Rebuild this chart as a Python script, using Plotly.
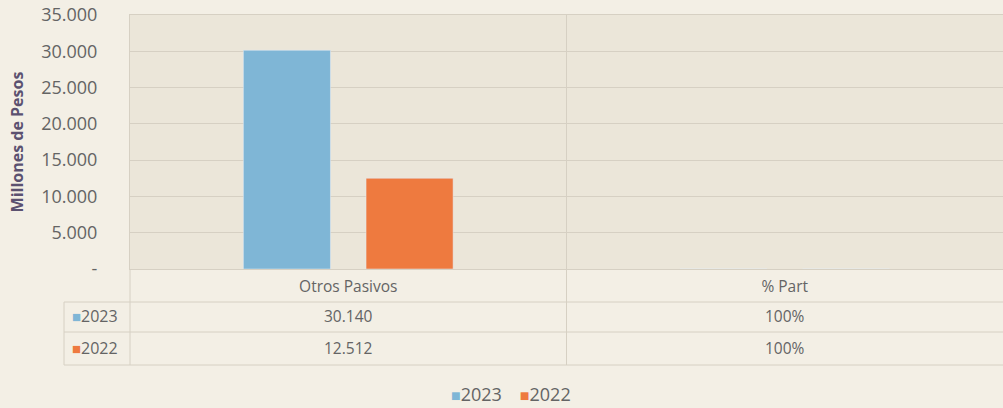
import plotly.graph_objects as go

categories = ["Otros Pasivos", "% Part"]
series_names = ["2023", "2022"]
values_2023 = [30140, 1]
values_2022 = [12512, 1]
table_2023 = ["30.140", "100%"]
table_2022 = ["12.512", "100%"]
tick_vals = [0, 5000, 10000, 15000, 20000, 25000, 30000, 35000]
tick_text = ["-", "5.000", "10.000", "15.000", "20.000", "25.000", "30.000", "35.000"]

c2023 = "#7fb6d6"
c2022 = "#ee7a3f"
txt = "#646464"
grid = "#d6d0c3"
FONT = "Open Sans"
colors = [c2023, c2022]

fig = go.Figure()
fig.add_trace(go.Bar(x=categories, y=values_2023, name=series_names[0], marker_color=c2023, showlegend=False))
fig.add_trace(go.Bar(x=categories, y=values_2022, name=series_names[1], marker_color=c2022, showlegend=False))

W, H = 1003, 408
ml, mr, mt, mb = 130, 0, 15, 139
pw = W - ml - mr
ph = H - mt - mb

def px_x(x):
    return (x - ml) / pw

def px_y(y):
    return (H - mb - y) / ph

shapes = []
line = dict(color=grid, width=1)
for yy in [302, 332, 365]:
    shapes.append(dict(type="line", xref="paper", yref="paper", x0=px_x(64), x1=1, y0=px_y(yy), y1=px_y(yy), line=line))
shapes.append(dict(type="line", xref="paper", yref="paper", x0=px_x(64), x1=px_x(64), y0=px_y(302), y1=px_y(365), line=line))
shapes.append(dict(type="line", xref="paper", yref="paper", x0=0, x1=0, y0=px_y(365), y1=0, line=line))
shapes.append(dict(type="line", xref="x", yref="paper", x0=0.5, x1=0.5, y0=px_y(365), y1=1, line=line))

def swatch(col, size):
    return f"<span style='color:{col};font-size:{size}px'>■</span>"

annotations = []
rows = [(series_names[0], table_2023, c2023, 316), (series_names[1], table_2022, c2022, 348)]
for name, vals, col, yy in rows:
    annotations.append(dict(xref="paper", yref="paper", x=px_x(70), y=px_y(yy), xanchor="left", yanchor="middle",
                            text=swatch(col, 15) + name, showarrow=False,
                            font=dict(family=FONT, size=16, color=txt)))
    for cat, v in zip(categories, vals):
        annotations.append(dict(xref="x", yref="paper", x=cat, y=px_y(yy), xanchor="center", yanchor="middle",
                                text=v, showarrow=False, font=dict(family=FONT, size=15.5, color=txt)))

legend_text = "\u2003".join(swatch(c, 16) + n for c, n in zip(colors, series_names))
annotations.append(dict(xref="paper", yref="paper", x=px_x(511), y=px_y(394), xanchor="center", yanchor="middle",
                        text=legend_text, showarrow=False, font=dict(family=FONT, size=18, color=txt)))

fig.update_layout(
    width=W, height=H,
    margin=dict(l=ml, r=mr, t=mt, b=mb, autoexpand=False),
    paper_bgcolor="#f3efe5",
    plot_bgcolor="#ebe6d9",
    barmode="group",
    bargap=0.438,
    bargroupgap=0.29,
    font=dict(family=FONT, color=txt),
    shapes=shapes,
    annotations=annotations,
    showlegend=False,
)
fig.update_xaxes(showgrid=False, showline=True, linecolor=grid, mirror=True,
                 tickfont=dict(family=FONT, size=15.5, color=txt), ticks="", ticklabelstandoff=3)
fig.update_yaxes(range=[0, 35000], tickvals=tick_vals, ticktext=tick_text, showgrid=True, gridcolor=grid,
                 showline=True, linecolor=grid, mirror=True, zeroline=False,
                 tickfont=dict(family=FONT, size=18, color=txt), ticklabelstandoff=28,
                 title=dict(text="<b>Millones de Pesos</b>", font=dict(family=FONT, size=16, color="#5b5170"), standoff=13))

fig.write_html("out.html", config={"displayModeBar": False},
               post_script="document.body.style.margin='0';document.body.style.background='#f3efe5';")
